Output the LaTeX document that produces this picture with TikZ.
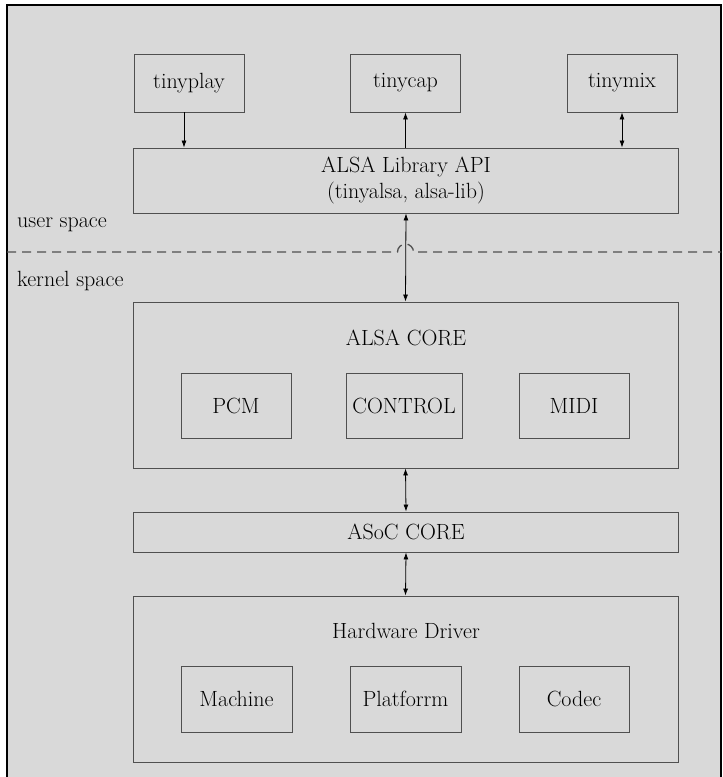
\documentclass[tikz,border=0pt]{standalone}
\usetikzlibrary{arrows.meta}
\definecolor{panel}{RGB}{217, 217, 217}
\definecolor{edge}{RGB}{80, 80, 80}

\begin{document}
\begin{tikzpicture}[x=1pt, y=-1pt, font=\fontsize{22}{26}\selectfont,
  box/.style={draw=edge, line width=0.9pt, minimum width=110pt, minimum height=58pt, inner sep=0pt},
  sub/.style={box, minimum height=65pt},
  layer/.style={box, minimum width=545pt},
  link/.style={draw=black, line width=0.8pt, -{Latex[length=7pt, width=5pt]}},
  both/.style={link, {Latex[length=7pt, width=5pt]}-{Latex[length=7pt, width=5pt]}}]

  % Frame
  \useasboundingbox (0, 0) rectangle (723, 777);
  \fill [panel] (7, 5) rectangle (721, 777);
  \draw [line width=2pt] (7, 777) -- (7, 5) -- (721, 5) -- (721, 777);

  % Applications
  \node [box] (tinyplay) at (189, 83) {tinyplay};
  \node [box] (tinycap) at (405.5, 83) {tinycap};
  \node [box] (tinymix) at (622, 83) {tinymix};

  % Library
  \node [layer, minimum height=65pt, align=center] (api) at (406, 180.5)
    {ALSA Library API\\(tinyalsa, alsa-lib)};

  % Spaces
  \node [anchor=west, inner sep=0pt] (user) at (17, 225) {user space};
  \node [anchor=west, inner sep=0pt] (kernel) at (17, 281) {kernel space};
  \coordinate (dl) at (7, 252);
  \coordinate (dr) at (721, 252);
  \draw [edge, line width=1.3pt, dash pattern=on 9pt off 6pt]
    (dl) -- (397.5, 252) arc (180:360:8) -- (dr);

  % ALSA core
  \node [layer, minimum height=166pt] (core) at (405.5, 385) {};
  \node (coretitle) at (406, 338) {ALSA CORE};
  \node [sub] (pcm) at (236, 405.5) {PCM};
  \node [sub, minimum width=116pt] (control) at (404, 405.5) {CONTROL};
  \node [sub] (midi) at (574, 405.5) {MIDI};

  % ASoC
  \node [layer, minimum height=40pt] (asoc) at (406, 532) {ASoC CORE};

  % Hardware
  \node [layer, minimum height=166pt] (hw) at (405.5, 679) {};
  \node (hwtitle) at (406, 631) {Hardware Driver};
  \node [sub, minimum width=111pt, minimum height=66pt] (machine) at (236.5, 699) {Machine};
  \node [sub, minimum width=111pt, minimum height=66pt] (platform) at (405.5, 699) {Platforrm};
  \node [sub, minimum height=66pt] (codec) at (574, 699) {Codec};

  % Links
  \draw [link] ([xshift=-5pt]tinyplay.south) -- ([xshift=-5pt]tinyplay.south |- api.north);
  \draw [link] (tinycap.south |- api.north) -- (tinycap.south);
  \draw [both] (tinymix.south) -- (tinymix.south |- api.north);
  \draw [both] (api.south) -- (core.north);
  \draw [both] (core.south) -- (asoc.north);
  \draw [both] (asoc.south) -- (hw.north);

\end{tikzpicture}
\end{document}
